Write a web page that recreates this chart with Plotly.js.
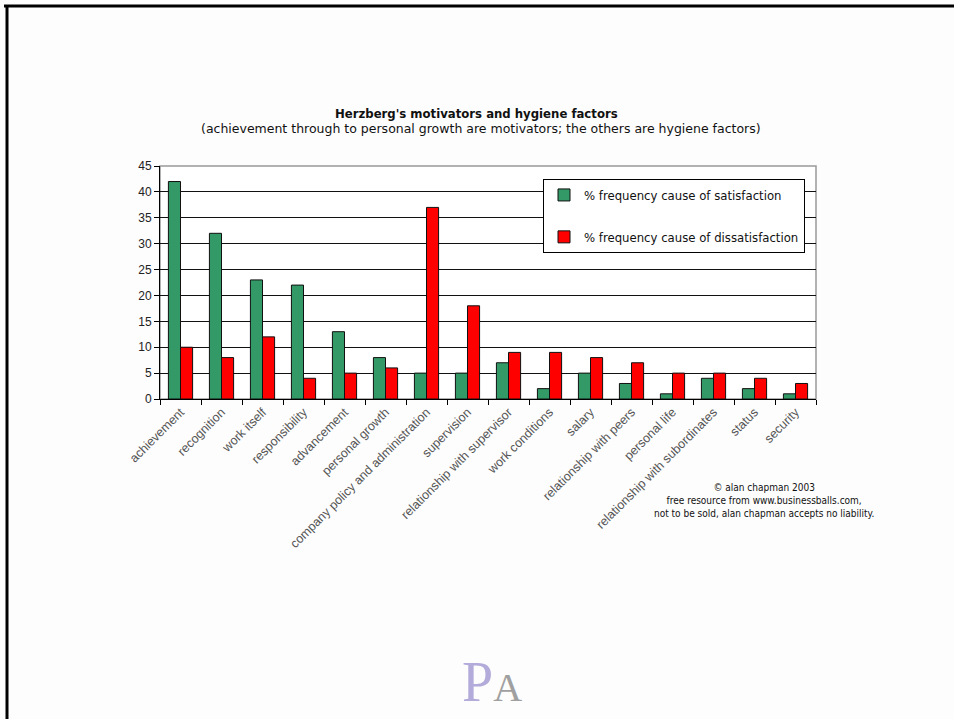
<!DOCTYPE html>
<html><head><meta charset="utf-8">
<script src="https://cdn.plot.ly/plotly-3.0.1.min.js"></script>
<style>html,body{margin:0;padding:0;background:#fdfdfd;}#chart{width:954px;height:719px;}</style>
</head><body><div id="chart"></div>
<script>
const categories = ["achievement","recognition","work itself","responsibility","advancement","personal growth","company policy and administration","supervision","relationship with supervisor","work conditions","salary","relationship with peers","personal life","relationship with subordinates","status","security"];
const satisfaction = [42,32,23,22,13,8,5,5,7,2,5,3,1,4,2,1];
const dissatisfaction = [10,8,12,4,5,6,37,18,9,9,8,7,5,5,4,3];
const seriesNames = ["% frequency cause of satisfaction","% frequency cause of dissatisfaction"];
const yTicks = [0,5,10,15,20,25,30,35,40,45];

const L=160, R=816, T=166, B=399;
const W=R-L, H=B-T;
const px = x => (x-L)/W;
const py = y => (B-y)/H;

const traces = [
 {type:'bar', x:categories, y:satisfaction, name:seriesNames[0], legendgroup:'a',
  marker:{color:'#339966', line:{color:'#111', width:1}}},
 {type:'bar', x:categories, y:dissatisfaction, name:seriesNames[1], legendgroup:'b',
  marker:{color:'#ff0000', line:{color:'#111', width:1}}}
];

const ann = (text, x, y, font, extra) => Object.assign({text, xref:'paper', yref:'paper', x:px(x), y:py(y),
  xanchor:'center', yanchor:'middle', showarrow:false, font}, extra||{});

const layout = {
 width:954, height:719,
 paper_bgcolor:'#fdfdfd', plot_bgcolor:'#ffffff',
 margin:{l:L, r:954-R, t:T, b:719-B, pad:0},
 barmode:'group', bargap:0.41, bargroupgap:0,
 font:{family:'Arial, Liberation Sans, sans-serif', color:'#222'},
 showlegend:true,
 legend:{x:px(543), y:py(179), xanchor:'left', yanchor:'top',
   bgcolor:'#ffffff', bordercolor:'#000', borderwidth:1,
   font:{family:'DejaVu Sans Condensed, DejaVu Sans, sans-serif', size:13, color:'#111'},
   tracegroupgap:22, itemwidth:30},
 xaxis:{type:'category', tickangle:-45, ticks:'outside', tickson:'boundaries', ticklen:5,
   tickcolor:'#000', showline:true, linecolor:'#000', linewidth:1, showgrid:false,
   tickfont:{family:'Arial, Liberation Sans, sans-serif', size:12.5, color:'#555'}, automargin:false},
 yaxis:{range:[0,45], tickvals:yTicks, ticks:'outside', ticklen:5, tickcolor:'#000',
   showline:true, linecolor:'#000', linewidth:1, showgrid:true, gridcolor:'#111', gridwidth:1,
   zeroline:false, tickfont:{family:'Arial, Liberation Sans, sans-serif', size:12, color:'#222'}, automargin:false},
 shapes:[
  {type:'rect', xref:'paper', yref:'paper', x0:0, x1:1, y0:0, y1:1, line:{color:'#999', width:1.5}, layer:'below'},
  {type:'line', xref:'paper', yref:'paper', x0:px(4), x1:px(954), y0:py(6), y1:py(6), line:{color:'#000', width:3}},
  {type:'line', xref:'paper', yref:'paper', x0:px(7), x1:px(7), y0:py(5), y1:py(719), line:{color:'#000', width:3}}
 ],
 annotations:[
  ann("<b>Herzberg's motivators and hygiene factors</b>", 476, 113,
   {family:'DejaVu Sans Condensed, DejaVu Sans, sans-serif', size:13, color:'#111'}),
  ann("(achievement through to personal growth are motivators; the others are hygiene factors)", 481, 129,
   {family:'DejaVu Sans, sans-serif', size:12.5, color:'#111'}),
  ann("© alan chapman 2003<br>free resource from www.businessballs.com,<br>not to be sold, alan chapman accepts no liability.", 764, 500,
   {family:'DejaVu Sans Condensed, DejaVu Sans, sans-serif', size:10, color:'#111'}, {align:'center'}),
  ann("<span style='color:#b3abd9;font-size:56px'>P</span><span style='color:#a0a0a0;font-size:40px'>A</span>", 492, 682,
   {family:'Liberation Serif, DejaVu Serif, serif', size:40, color:'#a0a0a0'})
 ]
};
Plotly.newPlot('chart', traces, layout, {displayModeBar:false, staticPlot:true});
</script></body></html>
